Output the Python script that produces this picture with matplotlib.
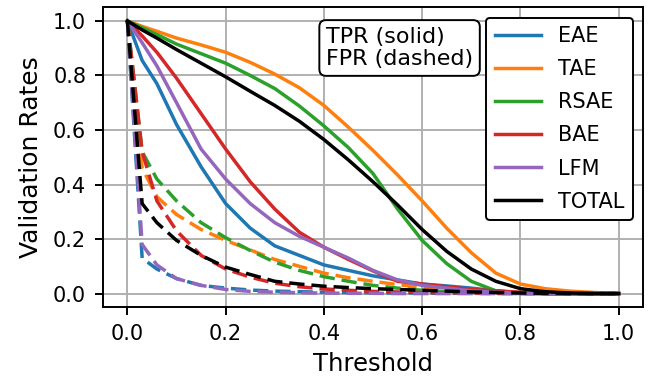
import matplotlib
matplotlib.use("Agg")
import matplotlib.pyplot as plt

# threshold grid
thresholds = [0, 0.03, 0.06, 0.1, 0.15, 0.2, 0.25, 0.3, 0.35, 0.4, 0.45,
              0.5, 0.55, 0.6, 0.65, 0.7, 0.75, 0.8, 0.85, 0.9, 0.95, 1.0]

names = ["EAE", "TAE", "RSAE", "BAE", "LFM", "TOTAL"]
colors = ["tab:blue", "tab:orange", "tab:green", "tab:red", "tab:purple", "black"]

# true positive rates (solid)
tpr_eae = [1, 0.855, 0.77, 0.62, 0.465, 0.33, 0.24, 0.175, 0.14, 0.105, 0.085,
           0.065, 0.05, 0.035, 0.028, 0.02, 0.01, 0.003, 0, 0, 0, 0]
tpr_tae = [1, 0.98, 0.962, 0.937, 0.912, 0.885, 0.848, 0.805, 0.755, 0.69, 0.61,
           0.525, 0.435, 0.34, 0.24, 0.15, 0.075, 0.035, 0.018, 0.009, 0.004, 0]
tpr_rsae = [1, 0.975, 0.95, 0.915, 0.88, 0.845, 0.80, 0.752, 0.688, 0.615, 0.535,
            0.44, 0.31, 0.195, 0.11, 0.045, 0.01, 0.002, 0, 0, 0, 0]
tpr_bae = [1, 0.945, 0.885, 0.79, 0.66, 0.53, 0.41, 0.31, 0.225, 0.17, 0.125,
           0.083, 0.045, 0.035, 0.025, 0.015, 0.01, 0.005, 0, 0, 0, 0]
tpr_lfm = [1, 0.92, 0.835, 0.70, 0.53, 0.42, 0.33, 0.26, 0.21, 0.17, 0.13,
           0.085, 0.05, 0.03, 0.02, 0.01, 0.005, 0, 0, 0, 0, 0]
tpr_total = [1, 0.967, 0.937, 0.895, 0.845, 0.795, 0.742, 0.69, 0.632, 0.565, 0.49,
             0.41, 0.325, 0.235, 0.155, 0.09, 0.045, 0.018, 0.007, 0.002, 0, 0]

# false positive rates (dashed)
fpr_eae = [1, 0.13, 0.09, 0.055, 0.03, 0.02, 0.013, 0.009, 0.007, 0.005, 0.004,
           0.003, 0.002, 0.002, 0.001, 0.001, 0, 0, 0, 0, 0, 0]
fpr_tae = [1, 0.46, 0.355, 0.29, 0.235, 0.195, 0.16, 0.125, 0.10, 0.075, 0.058,
           0.045, 0.033, 0.023, 0.015, 0.009, 0.005, 0.002, 0, 0, 0, 0]
fpr_rsae = [1, 0.52, 0.42, 0.34, 0.26, 0.205, 0.158, 0.115, 0.085, 0.062, 0.045,
            0.03, 0.02, 0.012, 0.007, 0.004, 0.002, 0.001, 0, 0, 0, 0]
fpr_bae = [1, 0.52, 0.34, 0.23, 0.14, 0.09, 0.06, 0.038, 0.025, 0.017, 0.012,
           0.008, 0.006, 0.004, 0.003, 0.002, 0.001, 0.001, 0, 0, 0, 0]
fpr_lfm = [1, 0.18, 0.105, 0.055, 0.03, 0.015, 0.008, 0.005, 0.003, 0.002, 0.001,
           0.001, 0, 0, 0, 0, 0, 0, 0, 0, 0, 0]
fpr_total = [1, 0.33, 0.26, 0.195, 0.14, 0.097, 0.07, 0.045, 0.035, 0.027, 0.022,
             0.018, 0.015, 0.012, 0.009, 0.006, 0.004, 0.002, 0.001, 0, 0, 0]

tpr = [tpr_eae, tpr_tae, tpr_rsae, tpr_bae, tpr_lfm, tpr_total]
fpr = [fpr_eae, fpr_tae, fpr_rsae, fpr_bae, fpr_lfm, fpr_total]

fig = plt.figure(figsize=(6.51, 3.84), dpi=100)
ax = fig.add_axes([0.158, 0.2, 0.83, 0.781])

lw = 2.5
handles = []
for name, c, t, f in zip(names, colors, tpr, fpr):
    h, = ax.plot(thresholds, t, color=c, lw=lw, label=name)
    ax.plot(thresholds, f, color=c, lw=lw, linestyle=(0, (4.4, 2.0)))
    handles.append(h)

ax.grid(True, color="#b0b0b0", lw=1.4)
ax.set_axisbelow(True)
ax.set_xticks([0, 0.2, 0.4, 0.6, 0.8, 1.0])
ax.set_yticks([0, 0.2, 0.4, 0.6, 0.8, 1.0])
ax.tick_params(labelsize=15, length=6, width=1.4, pad=6)
for s in ax.spines.values():
    s.set_linewidth(1.4)

ax.set_xlabel("Threshold", fontsize=17.5, labelpad=6)
ax.set_ylabel("Validation Rates", fontsize=18, labelpad=7)

leg = ax.legend(handles=handles, loc="upper right", fontsize=15, handlelength=2.25,
                labelspacing=0.63, framealpha=1, edgecolor="black", fancybox=True)
leg.get_frame().set_linewidth(1.4)

ax.text(0.413, 0.935, "TPR (solid)\nFPR (dashed)", transform=ax.transAxes,
        fontsize=16, va="top", ha="left", linespacing=1.15,
        bbox=dict(boxstyle="round,pad=0.3", facecolor="white", edgecolor="black", lw=1.4))

fig.savefig("out.png", dpi=100)
